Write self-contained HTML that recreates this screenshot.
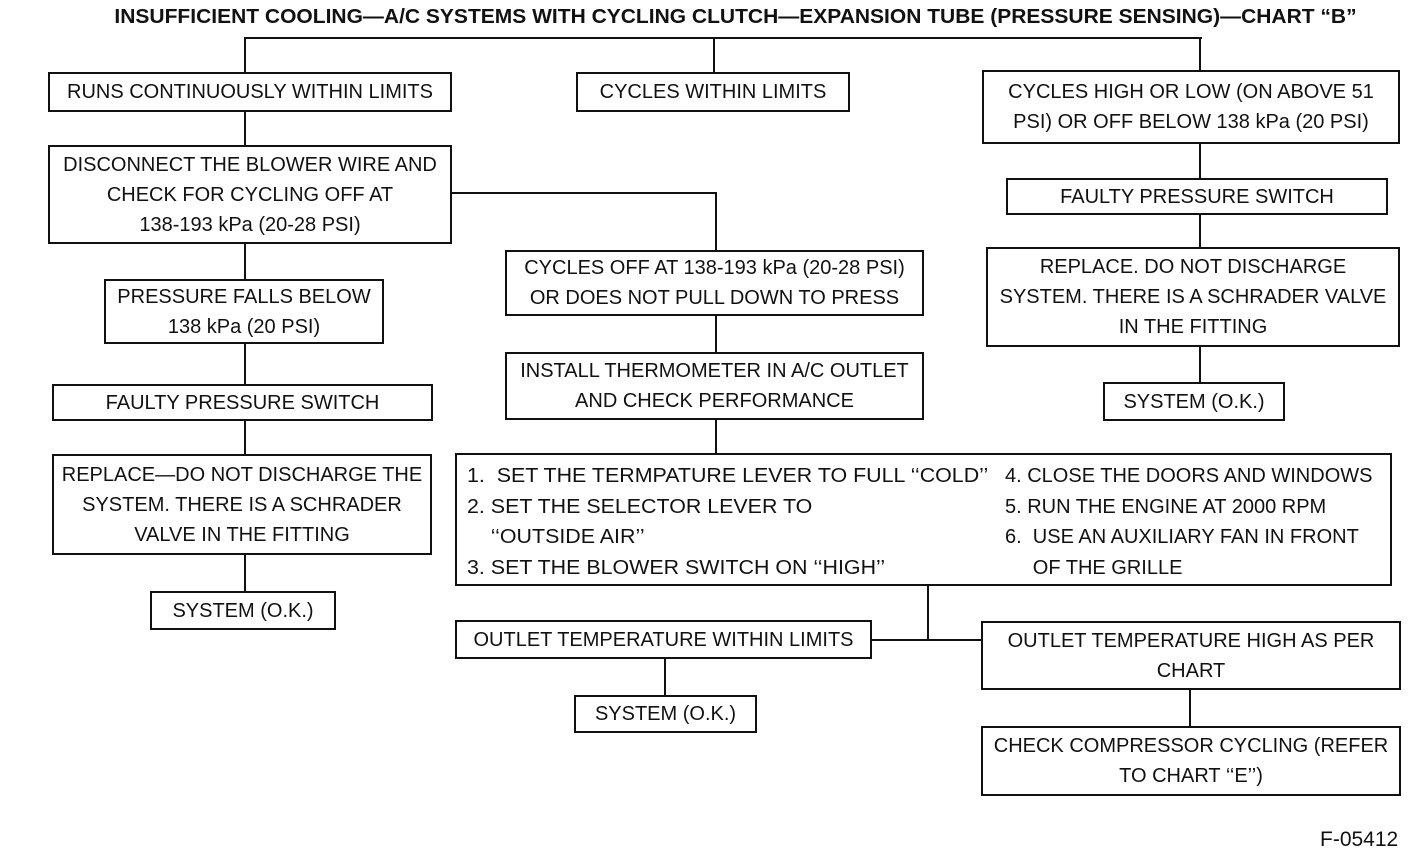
<!DOCTYPE html>
<html><head><meta charset="utf-8"><style>
body{margin:0;background:#fff;}
#c{position:relative;width:1424px;height:856px;overflow:hidden;font-family:"Liberation Sans",sans-serif;color:#111;}
.b{position:absolute;border:2px solid #111;box-sizing:border-box;display:flex;align-items:center;justify-content:center;text-align:center;}
.t{display:inline-block;font-size:20px;line-height:30px;transform:scaleX(1.0);white-space:nowrap;}
.h{position:absolute;background:#111;height:2px;}
.v{position:absolute;background:#111;width:2px;}
.l{position:absolute;font-size:20px;line-height:30.5px;white-space:nowrap;transform-origin:left top;}
</style></head><body><div id="c">
<div style="position:absolute;left:0;width:1470px;top:6px;text-align:center;"><span style="display:inline-block;font-weight:bold;font-size:20px;transform:scaleX(1.05);white-space:nowrap;">INSUFFICIENT COOLING—A/C SYSTEMS WITH CYCLING CLUTCH—EXPANSION TUBE (PRESSURE SENSING)—CHART “B”</span></div>

<div class="h" style="left:244px;top:37px;width:958px"></div>
<div class="v" style="left:244px;top:37px;height:36px"></div>
<div class="v" style="left:713px;top:37px;height:36px"></div>
<div class="v" style="left:1199px;top:37px;height:34px"></div>

<div class="b" style="left:48px;top:72px;width:404px;height:40px"><span class="t">RUNS CONTINUOUSLY WITHIN LIMITS</span></div>
<div class="b" style="left:576px;top:72px;width:274px;height:40px"><span class="t">CYCLES WITHIN LIMITS</span></div>
<div class="b" style="left:982px;top:70px;width:418px;height:74px"><span class="t">CYCLES HIGH OR LOW (ON ABOVE 51<br>PSI) OR OFF BELOW 138 kPa (20 PSI)</span></div>

<div class="v" style="left:244px;top:112px;height:34px"></div>
<div class="b" style="left:48px;top:145px;width:404px;height:99px"><span class="t">DISCONNECT THE BLOWER WIRE AND<br>CHECK FOR CYCLING OFF AT<br>138-193 kPa (20-28 PSI)</span></div>
<div class="h" style="left:452px;top:192px;width:265px"></div>
<div class="v" style="left:715px;top:192px;height:59px"></div>

<div class="v" style="left:1199px;top:144px;height:35px"></div>
<div class="b" style="left:1006px;top:178px;width:382px;height:37px"><span class="t">FAULTY PRESSURE SWITCH</span></div>
<div class="v" style="left:1199px;top:214px;height:34px"></div>
<div class="b" style="left:986px;top:247px;width:414px;height:100px"><span class="t">REPLACE. DO NOT DISCHARGE<br>SYSTEM. THERE IS A SCHRADER VALVE<br>IN THE FITTING</span></div>
<div class="v" style="left:1199px;top:347px;height:36px"></div>
<div class="b" style="left:1103px;top:382px;width:182px;height:39px"><span class="t">SYSTEM (O.K.)</span></div>

<div class="b" style="left:505px;top:250px;width:419px;height:66px"><span class="t">CYCLES OFF AT 138-193 kPa (20-28 PSI)<br>OR DOES NOT PULL DOWN TO PRESS</span></div>
<div class="v" style="left:715px;top:316px;height:37px"></div>
<div class="b" style="left:505px;top:352px;width:419px;height:68px"><span class="t">INSTALL THERMOMETER IN A/C OUTLET<br>AND CHECK PERFORMANCE</span></div>
<div class="v" style="left:715px;top:420px;height:34px"></div>

<div class="v" style="left:244px;top:244px;height:36px"></div>
<div class="b" style="left:104px;top:279px;width:280px;height:65px"><span class="t">PRESSURE FALLS BELOW<br>138 kPa (20 PSI)</span></div>
<div class="v" style="left:244px;top:344px;height:41px"></div>
<div class="b" style="left:52px;top:384px;width:381px;height:37px"><span class="t">FAULTY PRESSURE SWITCH</span></div>
<div class="v" style="left:244px;top:421px;height:34px"></div>
<div class="b" style="left:52px;top:454px;width:380px;height:101px"><span class="t">REPLACE—DO NOT DISCHARGE THE<br>SYSTEM. THERE IS A SCHRADER<br>VALVE IN THE FITTING</span></div>
<div class="v" style="left:244px;top:555px;height:37px"></div>
<div class="b" style="left:150px;top:591px;width:186px;height:39px"><span class="t">SYSTEM (O.K.)</span></div>

<div class="b" style="left:455px;top:453px;width:937px;height:133px;display:block"></div>
<div class="l" style="left:467px;top:461px;transform:scaleX(1.07)">1.&nbsp; SET THE TERMPATURE LEVER TO FULL ‘‘COLD’’<br>2. SET THE SELECTOR LEVER TO<br>&nbsp;&nbsp;&nbsp; ‘‘OUTSIDE AIR’’<br>3. SET THE BLOWER SWITCH ON ‘‘HIGH’’</div>
<div class="l" style="left:1005px;top:461px;transform:scaleX(1.0)">4. CLOSE THE DOORS AND WINDOWS<br>5. RUN THE ENGINE AT 2000 RPM<br>6.&nbsp; USE AN AUXILIARY FAN IN FRONT<br>&nbsp;&nbsp;&nbsp;&nbsp; OF THE GRILLE</div>

<div class="v" style="left:927px;top:586px;height:55px"></div>
<div class="h" style="left:872px;top:639px;width:110px"></div>
<div class="b" style="left:455px;top:620px;width:417px;height:39px"><span class="t">OUTLET TEMPERATURE WITHIN LIMITS</span></div>
<div class="b" style="left:981px;top:621px;width:420px;height:69px"><span class="t">OUTLET TEMPERATURE HIGH AS PER<br>CHART</span></div>
<div class="v" style="left:664px;top:659px;height:37px"></div>
<div class="b" style="left:574px;top:695px;width:183px;height:38px"><span class="t">SYSTEM (O.K.)</span></div>
<div class="v" style="left:1189px;top:690px;height:37px"></div>
<div class="b" style="left:981px;top:726px;width:420px;height:70px"><span class="t">CHECK COMPRESSOR CYCLING (REFER<br>TO CHART ‘‘E’’)</span></div>

<div style="position:absolute;left:1320px;top:828px;font-size:21px;">F-05412</div>
</div></body></html>
